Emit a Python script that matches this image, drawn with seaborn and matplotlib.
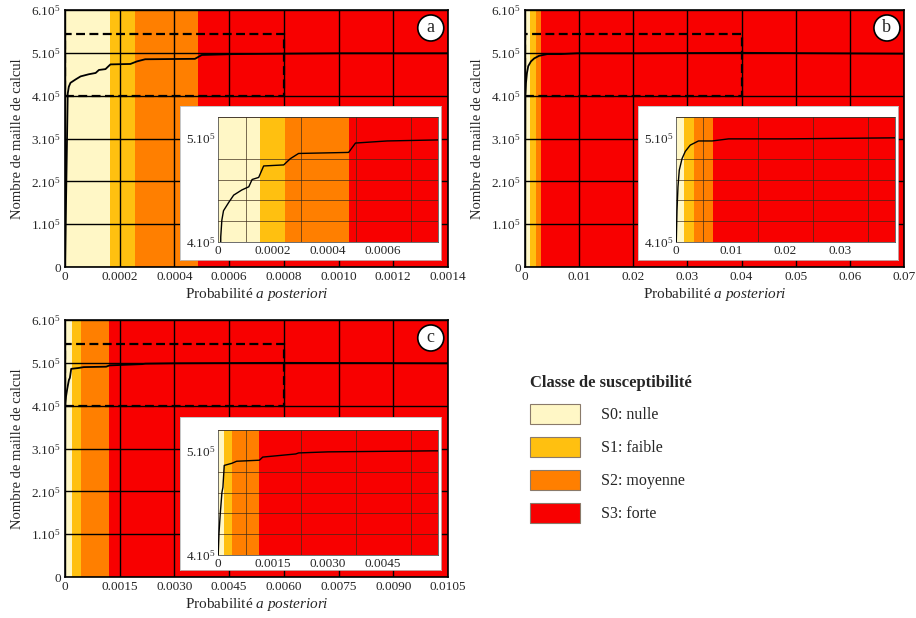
import seaborn as sns
import matplotlib.pyplot as plt
from matplotlib.patches import Rectangle, Patch

# susceptibility classes
classes = ['S0: nulle', 'S1: faible', 'S2: moyenne', 'S3: forte']
class_colors = ['#FFF7C6', '#FFC010', '#FF7F00', '#F80000']

# upper limits of S0, S1, S2 (main panels / insets)
bands_a = [0.000165, 0.000255, 0.000485]
bands_b = [0.0009, 0.002, 0.003]
bands_c = [0.00018, 0.00044, 0.0012]
inset_bands_a = [0.000152, 0.000242, 0.000478]
inset_bands_b = [0.0015, 0.0032, 0.0067]
inset_bands_c = [0.00015, 0.00037, 0.00113]

# cumulative curves
prob_a = [0, 0.00001, 0.000014, 0.00002, 0.000039, 0.000057, 0.000087, 0.000112,
          0.000124, 0.000148, 0.000166, 0.000239, 0.000263, 0.000293, 0.000475,
          0.0005, 0.000615, 0.0008, 0.001, 0.0014]
cells_a = [0, 4.05e5, 4.21e5, 4.30e5, 4.38e5, 4.45e5, 4.50e5, 4.53e5,
           4.60e5, 4.62e5, 4.73e5, 4.74e5, 4.80e5, 4.85e5, 4.86e5,
           4.95e5, 4.97e5, 4.98e5, 4.99e5, 4.99e5]
prob_b = [0, 0.00005, 0.00018, 0.00036, 0.0006, 0.0011, 0.0017, 0.0026, 0.0041,
          0.0066, 0.0096, 0.02, 0.04, 0.07]
cells_b = [0, 4.0e5, 4.30e5, 4.53e5, 4.69e5, 4.80e5, 4.87e5, 4.93e5, 4.97e5,
           4.97e5, 4.99e5, 4.99e5, 5.0e5, 4.98e5]
prob_c = [0, 0.000005, 0.000027, 0.0000625, 0.000107, 0.000134, 0.00017, 0.000375,
          0.000509, 0.00113, 0.00122, 0.00212, 0.0022, 0.003, 0.0059, 0.0105]
cells_c = [0, 4.0e5, 4.21e5, 4.40e5, 4.60e5, 4.65e5, 4.86e5, 4.88e5,
           4.90e5, 4.91e5, 4.94e5, 4.97e5, 4.98e5, 4.99e5, 5.0e5, 4.99e5]

# axis settings
xticks_a = [0, 0.0002, 0.0004, 0.0006, 0.0008, 0.0010, 0.0012, 0.0014]
xticks_b = [0, 0.01, 0.02, 0.03, 0.04, 0.05, 0.06, 0.07]
xticks_c = [0, 0.0015, 0.0030, 0.0045, 0.0060, 0.0075, 0.0090, 0.0105]
xlabels_a = ['0', '0.0002', '0.0004', '0.0006', '0.0008', '0.0010', '0.0012', '0.0014']
xlabels_b = ['0', '0.01', '0.02', '0.03', '0.04', '0.05', '0.06', '0.07']
xlabels_c = ['0', '0.0015', '0.0030', '0.0045', '0.0060', '0.0075', '0.0090', '0.0105']
yticks = [0, 1e5, 2e5, 3e5, 4e5, 5e5, 6e5]
ylabels = ['0'] + [f'{i}.10$^5$' for i in range(1, 7)]

inset_xmax = [0.0008, 0.04, 0.006]
inset_xstep = [0.0001, 0.005, 0.00075]
inset_xticks_a = [0, 0.0002, 0.0004, 0.0006]
inset_xticks_b = [0, 0.01, 0.02, 0.03]
inset_xticks_c = [0, 0.0015, 0.0030, 0.0045]
inset_xlabels_a = ['0', '0.0002', '0.0004', '0.0006']
inset_xlabels_b = ['0', '0.01', '0.02', '0.03']
inset_xlabels_c = ['0', '0.0015', '0.0030', '0.0045']
inset_ylim = [4e5, 5.2e5]
zoom_box_top = 5.45e5

sns.set_style('white')
plt.rcParams['font.family'] = ['Liberation Serif', 'DejaVu Serif']
plt.rcParams['mathtext.fontset'] = 'custom'
plt.rcParams['mathtext.rm'] = 'Liberation Serif'
plt.rcParams['mathtext.it'] = 'Liberation Serif:italic'

W, H = 916, 618
fig = plt.figure(figsize=(W / 100, H / 100), dpi=100)


def px_axes(x0, y0, x1, y1):
    return fig.add_axes([x0 / W, 1 - y1 / H, (x1 - x0) / W, (y1 - y0) / H])


def draw_bands(ax, bands, xmax):
    edges = [0] + bands + [xmax]
    for i, col in enumerate(class_colors):
        ax.axvspan(edges[i], edges[i + 1], color=col, lw=0, zorder=0)


def panel(box, bands, prob, cells, xticks, xlabels, letter,
          ibox, iaxes, ibands, ixmax, ixstep, ixticks, ixlabels):
    ax = px_axes(*box)
    xmax = xticks[-1]
    draw_bands(ax, bands, xmax)
    sns.lineplot(x=prob, y=cells, ax=ax, color='black', lw=1.3,
                 estimator=None, zorder=4)
    ax.set_xlim(0, xmax)
    ax.set_ylim(0, 6e5)
    ax.set_xticks(xticks)
    ax.set_xticklabels(xlabels, fontsize=9.5)
    ax.set_yticks(yticks)
    ax.set_yticklabels(ylabels, fontsize=9.5)
    ax.tick_params(length=0, pad=3)
    ax.grid(True, color='black', lw=1.0)
    ax.set_axisbelow(False)
    for s in ax.spines.values():
        s.set_color('black')
        s.set_linewidth(1.2)
    ax.set_xlabel('Probabilité $\\mathit{a\\ posteriori}$', fontsize=11, labelpad=2)
    ax.set_ylabel('Nombre de maille de calcul', fontsize=10.5, labelpad=5)
    ax.add_patch(Rectangle((0, inset_ylim[0]), ixmax, zoom_box_top - inset_ylim[0],
                           fill=False, ec='black', lw=1.6, ls=(0, (4, 2)), zorder=5))
    ax.text(0.955, 0.93, letter, transform=ax.transAxes, fontsize=13,
            ha='center', va='center', zorder=6,
            bbox=dict(boxstyle='circle,pad=0.25', fc='white', ec='black', lw=1.2))

    # white frame behind the inset
    bg = px_axes(*ibox)
    bg.set_facecolor('white')
    bg.set_xticks([])
    bg.set_yticks([])
    for s in bg.spines.values():
        s.set_color('#bbbbbb')
        s.set_linewidth(0.6)

    ins = px_axes(*iaxes)
    draw_bands(ins, ibands, ixmax)
    sns.lineplot(x=prob, y=cells, ax=ins, color='black', lw=1.0,
                 estimator=None, zorder=4)
    ins.set_xlim(0, ixmax)
    ins.set_ylim(*inset_ylim)
    n = round(ixmax / ixstep)
    ins.set_xticks([i * ixstep for i in range(n + 1)], minor=True)
    ins.set_yticks([inset_ylim[0] + i * 0.2e5 for i in range(7)], minor=True)
    ins.set_xticks(ixticks)
    ins.set_xticklabels(ixlabels, fontsize=9.5)
    ins.set_yticks([4e5, 5e5])
    ins.set_yticklabels(['4.10$^5$', '5.10$^5$'], fontsize=9.5)
    ins.tick_params(which='both', length=0, pad=2)
    ins.grid(True, which='minor', color='#3a2a1a', lw=0.6, alpha=0.8)
    ins.grid(False, which='major')
    ins.set_axisbelow(False)
    ins.set_xlabel('')
    ins.set_ylabel('')
    for s in ins.spines.values():
        s.set_color('#555555')
        s.set_linewidth(0.6)


panel((65, 10, 448, 267), bands_a, prob_a, cells_a, xticks_a, xlabels_a, 'a',
      (180, 106, 441, 260), (218, 117, 438, 242), inset_bands_a,
      inset_xmax[0], inset_xstep[0], inset_xticks_a, inset_xlabels_a)
panel((525, 10, 904, 267), bands_b, prob_b, cells_b, xticks_b, xlabels_b, 'b',
      (638, 106, 898, 260), (676, 117, 895, 242), inset_bands_b,
      inset_xmax[1], inset_xstep[1], inset_xticks_b, inset_xlabels_b)
panel((65, 320, 448, 577), bands_c, prob_c, cells_c, xticks_c, xlabels_c, 'c',
      (180, 417, 441, 570), (218, 430, 438, 555), inset_bands_c,
      inset_xmax[2], inset_xstep[2], inset_xticks_c, inset_xlabels_c)

handles = [Patch(fc=c, ec='#8a7a6a', lw=0.8) for c in class_colors]
leg = fig.legend(handles, classes, loc='upper left',
                 bbox_to_anchor=(516 / W, 1 - 361 / H), frameon=False,
                 title='Classe de susceptibilité', fontsize=11.5,
                 title_fontproperties={'weight': 'bold', 'size': 12},
                 handlelength=3.1, handleheight=1.55, handletextpad=1.3,
                 labelspacing=0.8, alignment='left')

fig.savefig('out.png', dpi=100)
